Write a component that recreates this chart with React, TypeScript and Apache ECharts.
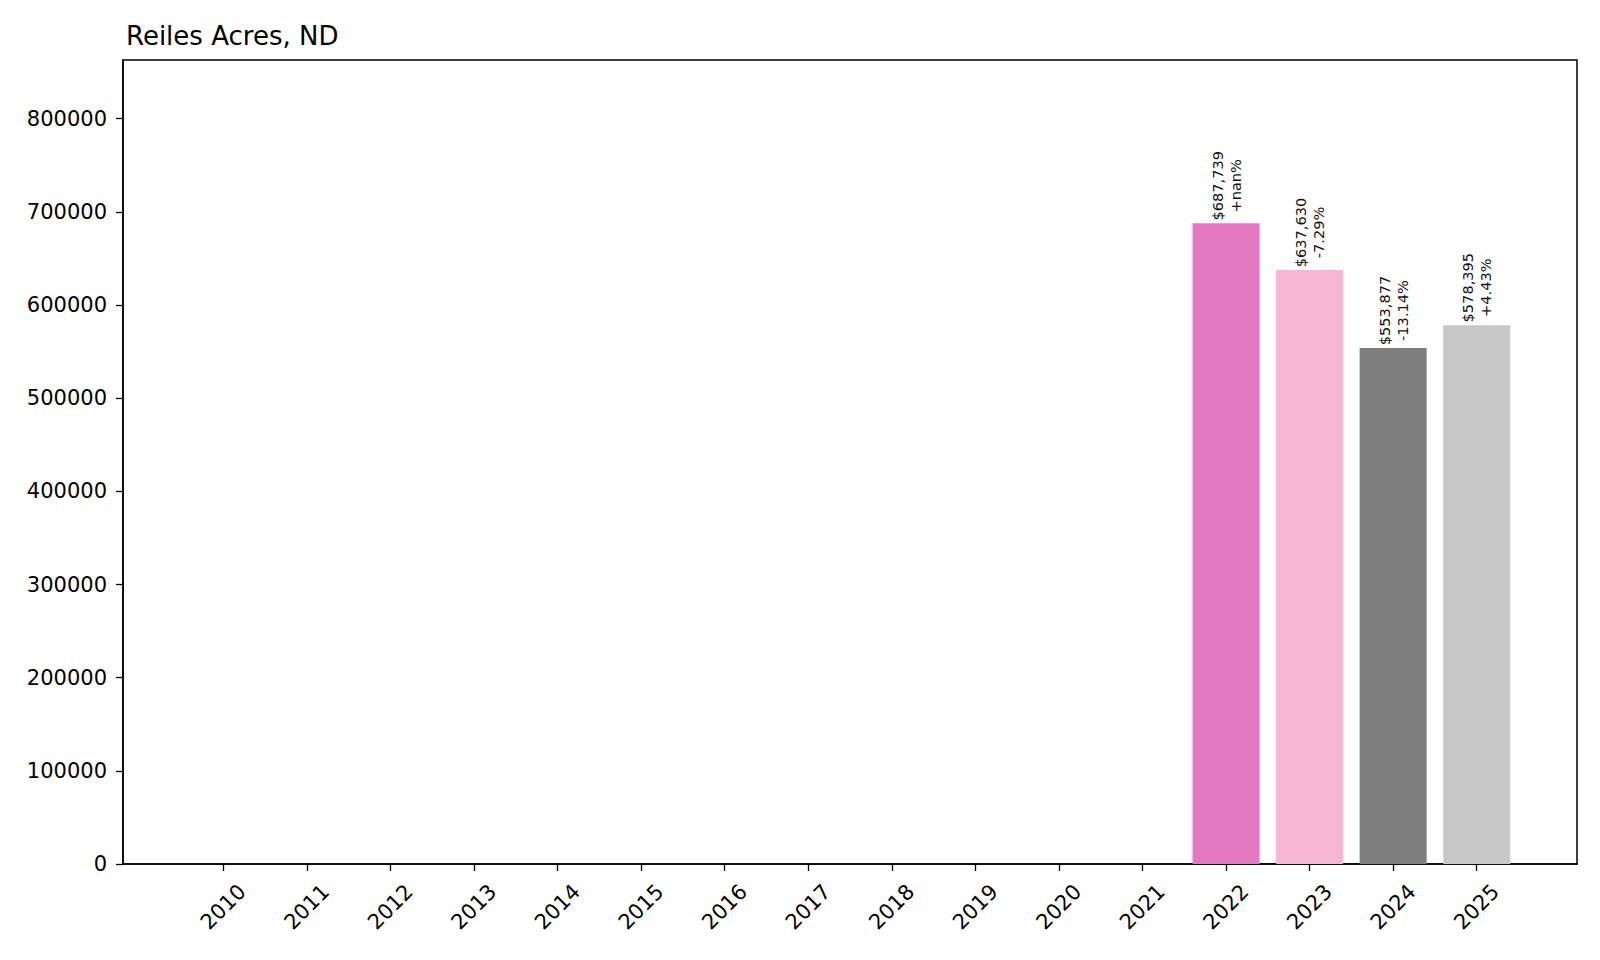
import React, { useEffect, useRef } from 'react';
import * as echarts from 'echarts';

const TITLE = 'Reiles Acres, ND';

const YEARS = [
  2010, 2011, 2012, 2013, 2014, 2015, 2016, 2017, 2018, 2019, 2020, 2021, 2022, 2023, 2024, 2025,
];
const VALUES = [0, 0, 0, 0, 0, 0, 0, 0, 0, 0, 0, 0, 687739, 637630, 553877, 578395];
const CHANGES = ['', '', '', '', '', '', '', '', '', '', '', '', '+nan%', '-7.29%', '-13.14%', '+4.43%'];

// matplotlib tab20, one colour per bar
const PALETTE = [
  '#1f77b4', '#aec7e8', '#ff7f0e', '#ffbb78', '#2ca02c', '#98df8a', '#d62728', '#ff9896',
  '#9467bd', '#c5b0d5', '#8c564b', '#c49c94', '#e377c2', '#f7b6d2', '#7f7f7f', '#c7c7c7',
];

const FONT = 'DejaVu Sans';
const FG = '#000';

const fmtMoney = (v: number) => '$' + v.toLocaleString('en-US');

const App: React.FC = () => {
  const divEL = useRef<HTMLDivElement>(null);

  useEffect(() => {
    document.body.style.margin = '0';
    const instance = echarts.init(divEL.current as any, null, { renderer: 'svg' });

    const option: any = {
      animation: false,
      backgroundColor: '#fff',
      textStyle: { fontFamily: FONT },
      title: {
        text: TITLE,
        left: 121,
        top: 18,
        textStyle: { fontFamily: FONT, fontSize: 26, fontWeight: 'normal', color: FG },
      },
      grid: {
        left: 123,
        right: 23,
        top: 60,
        bottom: 96,
        show: true,
        borderColor: FG,
        borderWidth: 1.5,
        backgroundColor: 'transparent',
      },
      xAxis: {
        type: 'value',
        min: 2008.8,
        max: 2026.2,
        splitLine: { show: false },
        axisLine: { show: true, onZero: false, lineStyle: { color: FG, width: 1.5 } },
        axisTick: {
          show: true,
          length: 7,
          customValues: YEARS,
          lineStyle: { color: FG, width: 1.3 },
        },
        axisLabel: {
          customValues: YEARS,
          formatter: (v: number) => String(v),
          rotate: 45,
          align: 'center',
          verticalAlign: 'middle',
          margin: 43,
          fontFamily: FONT,
          fontSize: 21,
          color: FG,
        },
      },
      yAxis: {
        type: 'value',
        min: 0,
        max: 863000,
        interval: 100000,
        splitLine: { show: false },
        axisLine: { show: true, lineStyle: { color: FG, width: 1.5 } },
        axisTick: { show: true, length: 7, lineStyle: { color: FG, width: 1.3 } },
        axisLabel: {
          margin: 16,
          fontFamily: FONT,
          fontSize: 21,
          color: FG,
          showMaxLabel: false,
          formatter: (v: number) => String(v),
        },
      },
      series: [
        {
          type: 'bar',
          barWidth: 67,
          data: YEARS.map((y, i) => ({
            value: [y, VALUES[i]],
            itemStyle: { color: PALETTE[i] },
          })),
          label: {
            show: true,
            position: 'top',
            distance: 2,
            rotate: 90,
            align: 'left',
            verticalAlign: 'middle',
            formatter: (p: any) => {
              const i = p.dataIndex;
              if (!VALUES[i]) return '';
              return `{a|${fmtMoney(VALUES[i])}}\n{a|${CHANGES[i]}}`;
            },
            rich: {
              a: {
                width: 71,
                align: 'center',
                fontFamily: FONT,
                fontSize: 14.6,
                lineHeight: 18,
                color: '#111',
              },
            },
          },
        },
      ],
    };

    instance.setOption(option);
    return () => {
      instance.dispose();
    };
  }, []);

  return <div ref={divEL} style={{ width: 1600, height: 960 }}></div>;
};

export default App;
